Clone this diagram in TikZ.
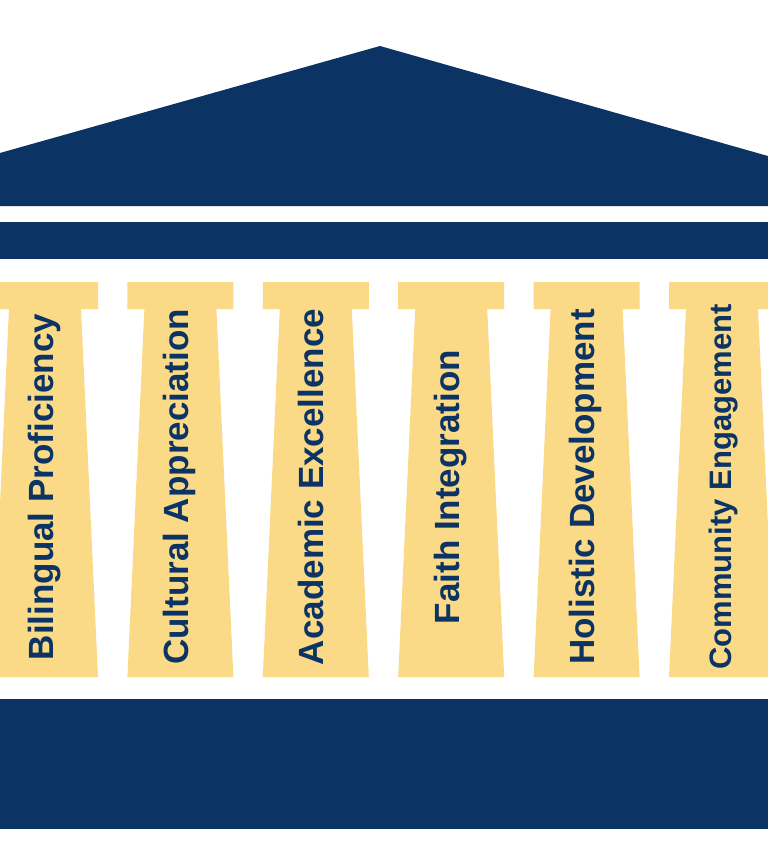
\documentclass[tikz,border=0pt]{standalone}
\usepackage{fontspec}
\setmainfont{Liberation Sans}
\usepackage{xcolor}
\usetikzlibrary{positioning}

\definecolor{navy}{RGB}{11,51,100}
\definecolor{gold}{RGB}{250,217,135}

\begin{document}
\begin{tikzpicture}[
    x=1pt, y=-1pt,
    block/.style={fill=navy, draw=none},
    pillar/.style={fill=gold, draw=none},
    pillartext/.style={rotate=90, anchor=base, text=navy,
                       font=\bfseries\fontsize{35}{40}\selectfont}
  ]
    \useasboundingbox (0,0) rectangle (768,841);
    \clip (0,0) rectangle (768,841);

    % roof, beam and floor
    \fill[block] (-20,158.6) -- (380,46) -- (788,161.7) -- (788,206) -- (-20,206) -- cycle;
    \fill[block] (-2,222) rectangle (770,259);
    \fill[block] (-2,699) rectangle (770,829);

    % pillars
    \fill[pillar] (-8,282) -- (98,282) -- (98,309) -- (81,309) -- (98,677) -- (-8,677) -- (9,309) -- (-8,309) -- cycle;
    \fill[pillar] (127.4,282) -- (233.4,282) -- (233.4,309) -- (216.4,309) -- (233.4,677) -- (127.4,677) -- (144.4,309) -- (127.4,309) -- cycle;
    \fill[pillar] (262.8,282) -- (368.8,282) -- (368.8,309) -- (351.8,309) -- (368.8,677) -- (262.8,677) -- (279.8,309) -- (262.8,309) -- cycle;
    \fill[pillar] (398.2,282) -- (504.2,282) -- (504.2,309) -- (487.2,309) -- (504.2,677) -- (398.2,677) -- (415.2,309) -- (398.2,309) -- cycle;
    \fill[pillar] (533.6,282) -- (639.6,282) -- (639.6,309) -- (622.6,309) -- (639.6,677) -- (533.6,677) -- (550.6,309) -- (533.6,309) -- cycle;
    \fill[pillar] (669,282) -- (775,282) -- (775,309) -- (758,309) -- (775,677) -- (669,677) -- (686,309) -- (669,309) -- cycle;

    % pillar names
    \node[pillartext] (bilingual) at (53,487)    {Bilingual Proficiency};
    \node[pillartext] (cultural)  at (188.4,487) {Cultural Appreciation};
    \node[pillartext] (academic)  at (323.8,487) {Academic Excellence};
    \node[pillartext] (faith)     at (459.2,487) {Faith Integration};
    \node[pillartext] (holistic)  at (594.6,487) {Holistic Development};
    \node[pillartext, font=\bfseries\fontsize{31}{36}\selectfont] (community) at (731,487) {Community Engagement};
  \end{tikzpicture}
\end{document}
